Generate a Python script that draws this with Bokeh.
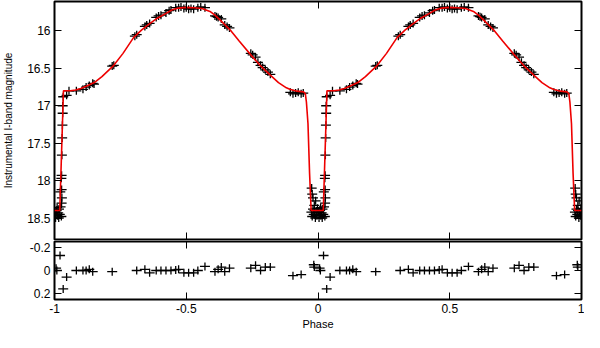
import math
from bokeh.plotting import figure
from bokeh.models import Range1d, LinearAxis, FixedTicker
from bokeh.layouts import column
from bokeh.embed import file_html
from bokeh.resources import INLINE

# ---------------- data (one folded cycle, phase in [0, 1)) ----------------
model_phase = [0.000, 0.020, 0.027, 0.034, 0.060, 0.080, 0.100, 0.120, 0.151,
               0.180, 0.225, 0.260, 0.300, 0.330, 0.355, 0.390, 0.423, 0.445,
               0.470, 0.500, 0.530, 0.560, 0.590, 0.609, 0.630, 0.670, 0.700,
               0.745, 0.780, 0.819, 0.850, 0.880, 0.893, 0.920, 0.945, 0.952,
               0.956, 0.962, 0.968, 0.974, 1.000]
model_mag = [18.40, 18.40, 17.60, 16.80, 16.80, 16.79, 16.77, 16.74, 16.69,
             16.61, 16.46, 16.30, 16.09, 15.99, 15.92, 15.83, 15.765, 15.72,
             15.695, 15.685, 15.69, 15.70, 15.74, 15.79, 15.86, 16.00, 16.13,
             16.32, 16.46, 16.59, 16.69, 16.76, 16.78, 16.805, 16.815, 16.84,
             16.95, 17.24, 17.90, 18.40, 18.40]

obs_phase = [0.002, 0.005, 0.008, 0.011, 0.014, 0.017, 0.020, 0.023, 0.026,
             0.004, 0.010, 0.016, 0.027, 0.975, 0.978, 0.981, 0.984, 0.987,
             0.990, 0.993, 0.996, 0.998, 0.986, 0.978, 0.981, 0.976, 0.991,
             0.028, 0.027, 0.026, 0.027, 0.028, 0.029, 0.030, 0.031, 0.031,
             0.033, 0.022, 0.046, 0.055, 0.083, 0.108, 0.120, 0.132, 0.145,
             0.150, 0.219, 0.225, 0.305, 0.312, 0.343, 0.350, 0.361, 0.386,
             0.395, 0.404, 0.423, 0.435, 0.442, 0.460, 0.471, 0.480, 0.491,
             0.500, 0.509, 0.518, 0.528, 0.544, 0.555, 0.571, 0.609, 0.615,
             0.621, 0.633, 0.646, 0.655, 0.664, 0.745, 0.752, 0.763, 0.772,
             0.782, 0.790, 0.800, 0.810, 0.819, 0.895, 0.905, 0.915, 0.925,
             0.936, 0.944]
obs_mag = [18.42, 18.45, 18.40, 18.47, 18.43, 18.38, 18.45, 18.35, 18.48,
           18.50, 18.36, 18.50, 18.30, 18.42, 18.48, 18.38, 18.45, 18.40,
           18.50, 18.43, 18.47, 18.37, 18.33, 18.18, 18.23, 18.10, 18.27,
           18.23, 18.12, 17.97, 17.93, 17.66, 17.43, 17.26, 17.10, 17.00,
           16.88, 18.15, 16.86, 16.80, 16.80, 16.78, 16.75, 16.73, 16.70,
           16.71, 16.47, 16.46, 16.07, 16.05, 15.94, 15.92, 15.90, 15.82,
           15.80, 15.79, 15.76, 15.73, 15.72, 15.69, 15.69, 15.68, 15.70,
           15.69, 15.71, 15.70, 15.71, 15.69, 15.68, 15.69, 15.80, 15.81,
           15.82, 15.84, 15.92, 15.94, 15.96, 16.30, 16.32, 16.35, 16.42,
           16.46, 16.49, 16.52, 16.55, 16.58, 16.82, 16.84, 16.83, 16.82,
           16.84, 16.83]

res_phase = [0.006, 0.009, 0.021, 0.033, 0.046, 0.083, 0.108, 0.120, 0.132,
             0.145, 0.219, 0.312, 0.343, 0.361, 0.386, 0.404, 0.423, 0.442,
             0.460, 0.471, 0.491, 0.509, 0.528, 0.544, 0.571, 0.609, 0.621,
             0.633, 0.646, 0.664, 0.745, 0.763, 0.782, 0.800, 0.819, 0.905,
             0.936, 0.984, 0.986]
res_val = [-0.02, 0.0, -0.13, 0.16, 0.057, 0.0, 0.0, 0.0, -0.01,
           0.01, 0.01, 0.0, -0.01, 0.02, 0.0, 0.0, 0.0, 0.0,
           -0.005, -0.01, 0.02, 0.02, 0.02, 0.0, -0.035, 0.01, -0.01,
           -0.03, 0.01, -0.02, -0.02, -0.045, 0.0, -0.03, -0.03, 0.045,
           0.035, -0.05, -0.03]

x_ticks = [-1, -0.5, 0, 0.5, 1]
x_tick_labels = ["-1", "-0.5", "0", "0.5", "1"]
mag_ticks = [16, 16.5, 17, 17.5, 18, 18.5]
mag_tick_labels = ["16", "16.5", "17", "17.5", "18", "18.5"]
res_ticks = [-0.2, 0, 0.2]
res_tick_labels = ["-0.2", "0", "0.2"]

FONT = "Liberation Sans"
W = 584
LEFT = 54
RIGHT = 3


def two_cycles(ph, vals):
    return [p - 1 for p in ph] + list(ph), list(vals) + list(vals)


def style_axis(ax, ticks, labels=None):
    ax.ticker = FixedTicker(ticks=ticks)
    ax.axis_line_color = None
    ax.major_tick_in = 7
    ax.major_tick_out = 0
    ax.major_tick_line_color = "black"
    ax.major_tick_line_width = 1
    ax.minor_tick_line_color = None
    if labels is None:
        # mirrored tick marks only: labels are not painted
        ax.major_label_text_font_size = "0px"
        ax.major_label_text_color = None
        ax.major_label_standoff = 0
    else:
        ax.major_label_overrides = {t: l for t, l in zip(ticks, labels)}
        ax.major_label_text_font = FONT
        ax.major_label_text_font_size = "12px"
        ax.major_label_text_color = "black"
        ax.major_label_standoff = 4
    ax.axis_label_text_font = FONT
    ax.axis_label_text_font_size = "11px"
    ax.axis_label_text_font_style = "normal"
    ax.axis_label_text_color = "black"


def make_fig(h, yr):
    f = figure(width=W, height=h, output_backend="svg", toolbar_location=None,
               x_range=Range1d(-1, 1), y_range=yr,
               x_axis_location=None, y_axis_location=None,
               min_border_left=LEFT, min_border_right=RIGHT,
               min_border_top=1, min_border_bottom=1)
    f.grid.visible = False
    f.outline_line_color = "black"
    f.outline_line_width = 2
    f.background_fill_color = "white"
    f.border_fill_color = "white"
    return f


def add_points(f, xs, ys):
    f.scatter(xs, ys, marker="dash", size=10, line_color="black", line_width=1.3)
    f.scatter(xs, ys, marker="dash", size=8, angle=math.pi / 2,
              line_color="black", line_width=1.3)


# ---------------- top panel ----------------
top = make_fig(240, Range1d(18.787, 15.607))
ax = LinearAxis(axis_label="Instrumental I-band magnitude")
style_axis(ax, mag_ticks, mag_tick_labels)
ax.axis_label_standoff = 10
ax.axis_label_text_font_size = "10px"
top.add_layout(ax, "left")
for loc, t in (("right", mag_ticks), ("above", x_ticks), ("below", x_ticks)):
    a = LinearAxis()
    style_axis(a, t)
    top.add_layout(a, loc)

ox, oy = two_cycles(obs_phase, obs_mag)
add_points(top, ox, oy)
mx, my = two_cycles(model_phase, model_mag)
top.line(mx, my, line_color="#ee0000", line_width=1.6)

# ---------------- residual panel ----------------
bot = make_fig(92, Range1d(0.2515, -0.2515))
ay = LinearAxis()
style_axis(ay, res_ticks, res_tick_labels)
bot.add_layout(ay, "left")
axb = LinearAxis(axis_label="Phase")
style_axis(axb, x_ticks, x_tick_labels)
axb.axis_label_standoff = 2
bot.add_layout(axb, "below")
for loc, t in (("right", res_ticks), ("above", x_ticks)):
    a = LinearAxis()
    style_axis(a, t)
    bot.add_layout(a, loc)

rx, ry = two_cycles(res_phase, res_val)
add_points(bot, rx, ry)

layout = column(top, bot, spacing=0)
open("out.html", "w").write(file_html(layout, INLINE))
